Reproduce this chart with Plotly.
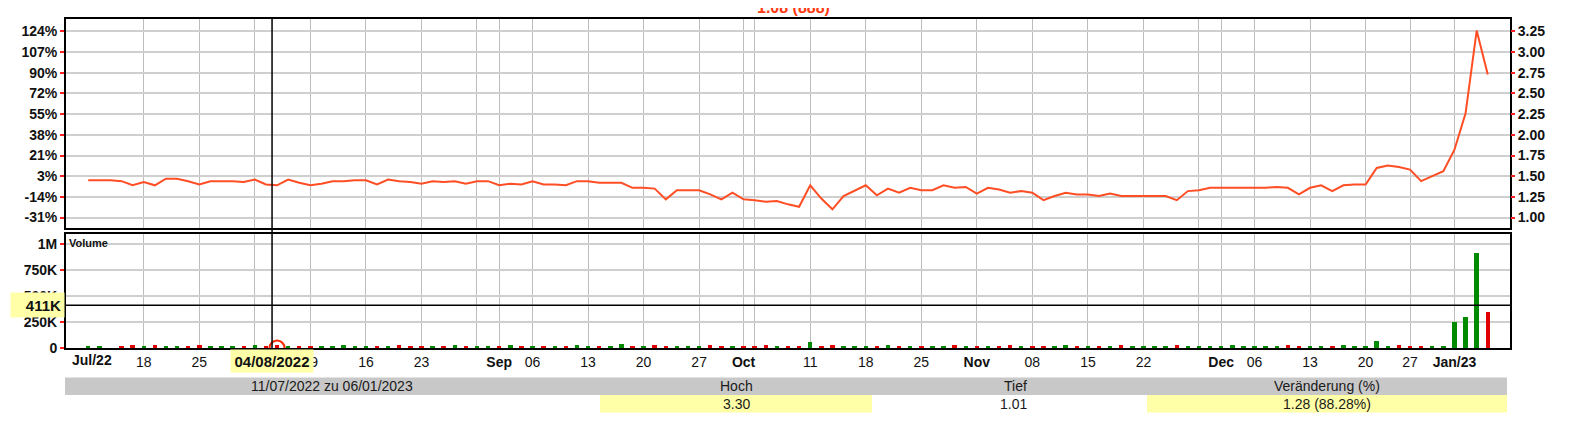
import plotly.graph_objects as go
import pandas as pd

# ---------------- data ----------------
closed_days = ["2022-08-01", "2022-12-26", "2023-01-02"]
dates = [d.strftime("%Y-%m-%d") for d in pd.bdate_range("2022-07-11", "2023-01-06")
         if d.strftime("%Y-%m-%d") not in closed_days]

close_prices = [
    1.45, 1.45, 1.45, 1.44, 1.39, 1.43, 1.39, 1.47, 1.47, 1.44,
    1.40, 1.44, 1.44, 1.44, 1.43, 1.46, 1.40, 1.39, 1.46, 1.42,
    1.39, 1.41, 1.44, 1.44, 1.45, 1.45, 1.40, 1.46, 1.44, 1.43,
    1.41, 1.44, 1.43, 1.44, 1.41, 1.44, 1.44, 1.39, 1.41, 1.40,
    1.44, 1.40, 1.40, 1.39, 1.44, 1.44, 1.42, 1.42, 1.42, 1.36,
    1.36, 1.35, 1.22, 1.33, 1.33, 1.33, 1.28, 1.22, 1.30, 1.22,
    1.21, 1.19, 1.20, 1.16, 1.13, 1.39, 1.23, 1.10, 1.26, 1.33,
    1.39, 1.27, 1.35, 1.30, 1.36, 1.33, 1.33, 1.39, 1.36, 1.37,
    1.29, 1.36, 1.34, 1.30, 1.32, 1.30, 1.21, 1.26, 1.30, 1.28,
    1.28, 1.26, 1.29, 1.26, 1.26, 1.26, 1.26, 1.26, 1.21, 1.32,
    1.33, 1.36, 1.36, 1.36, 1.36, 1.36, 1.36, 1.37, 1.36, 1.28,
    1.36, 1.39, 1.32, 1.39, 1.40, 1.40, 1.60, 1.63, 1.61, 1.58,
    1.44, 1.50, 1.56, 1.82, 2.26, 3.26, 2.73]

volumes_k = [
    28, 26, 0, 27, 29, 28, 30, 27, 26, 28,
    29, 27, 26, 28, 27, 29, 28, 30, 27, 26,
    28, 27, 26, 29, 28, 27, 28, 26, 29, 28,
    27, 28, 26, 29, 28, 27, 26, 28, 29, 27,
    28, 27, 26, 28, 29, 27, 28, 26, 42, 28,
    27, 29, 28, 26, 27, 28, 29, 27, 26, 28,
    27, 29, 28, 26, 28, 62, 27, 29, 28, 26,
    28, 27, 29, 26, 28, 27, 26, 28, 29, 27,
    28, 26, 27, 29, 28, 27, 26, 28, 29, 27,
    28, 26, 27, 29, 28, 27, 26, 28, 29, 27,
    28, 26, 27, 29, 28, 27, 26, 28, 29, 27,
    28, 26, 27, 29, 28, 27, 74, 28, 29, 27,
    28, 26, 27, 255, 300, 918, 355]

price_ticks = [1.00, 1.25, 1.50, 1.75, 2.00, 2.25, 2.50, 2.75, 3.00, 3.25]
price_tick_labels = ["1.00", "1.25", "1.50", "1.75", "2.00", "2.25", "2.50", "2.75", "3.00", "3.25"]
pct_tick_labels = ["-31%", "-14%", "3%", "21%", "38%", "55%", "72%", "90%", "107%", "124%"]

vol_ticks = [0, 250000, 500000, 750000, 1000000]
vol_tick_labels = ["0", "250K", "500K", "750K", "1M"]

x_tick_dates = ["2022-07-18", "2022-07-25", "2022-08-02", "2022-08-09", "2022-08-16", "2022-08-23",
                "2022-08-30", "2022-09-01", "2022-09-06", "2022-09-13", "2022-09-20", "2022-09-27",
                "2022-10-03", "2022-10-04", "2022-10-11", "2022-10-18", "2022-10-25", "2022-11-01",
                "2022-11-08", "2022-11-15", "2022-11-22", "2022-11-29", "2022-12-01", "2022-12-06",
                "2022-12-13", "2022-12-20", "2022-12-27", "2023-01-03"]
x_tick_labels = ["18", "25", "<b>Aug</b>", "09", "16", "23",
                 "", "<b>Sep</b>", "06", "13", "20", "27",
                 "<b>Oct</b>", "", "11", "18", "25", "<b>Nov</b>",
                 "08", "15", "22", "", "<b>Dec</b>", "06",
                 "13", "20", "27", "<b>Jan/23</b>"]
first_label = "<b>Jul/22</b>"

cursor_date = "2022-08-04"
cursor_volume = 411000
cursor_date_text = "04/08/2022"
cursor_volume_text = "411K"

title_text = "1.08 (888)"
range_text = "11/07/2022 zu 06/01/2023"
high_text, low_text, change_text = "3.30", "1.01", "1.28 (88.28%)"

# ---------------- styling ----------------
# the page body adds an 8px margin, so the figure itself is placed 8px in
OFF = 8
W, H = 1562, 425
ML, MR, MT, MB = 58, 60, 11, 85
PW, PH = W - ML - MR, H - MT - MB
FONT = "Arial, Liberation Sans, sans-serif"
LINE_COLOR = "#FF4D24"
GREEN, RED = "#008A00", "#E00000"
YELLOW = "#FFFFA8"
HGRID, VGRID = "#CFCFCF", "#BDBDBD"


def px_x(page_px):
    return (page_px - OFF - ML) / PW


def px_y(page_py):
    return (MT + PH - (page_py - OFF)) / PH


bar_colors = [GREEN] + [GREEN if close_prices[i] >= close_prices[i - 1] else RED
                        for i in range(1, len(close_prices))]
volumes = [v * 1000 for v in volumes_k]

fig = go.Figure()
fig.add_trace(go.Scatter(x=dates, y=close_prices, mode="lines", xaxis="x", yaxis="y",
                         line=dict(color=LINE_COLOR, width=2), hoverinfo="skip", showlegend=False))
fig.add_trace(go.Scatter(x=dates, y=close_prices, mode="lines", xaxis="x", yaxis="y3",
                         line=dict(color="rgba(0,0,0,0)", width=0), hoverinfo="skip", showlegend=False))
fig.add_trace(go.Bar(x=dates, y=volumes, xaxis="x2", yaxis="y2", marker=dict(color=bar_colors, line=dict(width=0)),
                     width=0.4, hoverinfo="skip", showlegend=False))
fig.add_trace(go.Scatter(x=[cursor_date], y=[0], mode="markers", xaxis="x2", yaxis="y2", cliponaxis=False,
                         marker=dict(symbol="circle-open", size=15, color="#FF2A00", line=dict(width=2.2)),
                         hoverinfo="skip", showlegend=False))

price_range = [0.874, 3.40]
price_dom = [px_y(228), 1]
vol_dom = [0, px_y(233.5)]
xrange_ = [-2, 128]

common_x = dict(type="category", range=xrange_, tickmode="array", tickvals=x_tick_dates,
                showgrid=True, gridcolor=VGRID, gridwidth=1, showline=True, linecolor="black",
                linewidth=2, mirror=True, ticks="", zeroline=False, fixedrange=True, automargin=False)
ytick = dict(ticks="outside", ticklen=4, tickwidth=2, tickcolor="#FF2020", automargin=False,
             tickfont=dict(family=FONT, size=14, color="#111", weight="bold"))

fig.update_layout(
    width=W, height=H, margin=dict(l=ML, r=MR, t=MT, b=MB, pad=0, autoexpand=False),
    paper_bgcolor="white", plot_bgcolor="white", bargap=0,
    xaxis=dict(**common_x, domain=[0, 1], anchor="y", showticklabels=False),
    xaxis2=dict(**common_x, domain=[0, 1], anchor="y2", matches="x", ticktext=x_tick_labels,
                showticklabels=True, tickfont=dict(family=FONT, size=14, color="#111")),
    yaxis=dict(domain=price_dom, anchor="x", range=price_range, tickmode="array", tickvals=price_ticks,
               ticktext=pct_tick_labels, showgrid=True, gridcolor=HGRID, gridwidth=2, zeroline=False,
               showline=True, linecolor="black", linewidth=2, mirror=True, fixedrange=True, **ytick),
    yaxis3=dict(overlaying="y", side="right", anchor="x", range=price_range, tickmode="array",
                tickvals=price_ticks, ticktext=price_tick_labels, showgrid=False, zeroline=False,
                showline=False, fixedrange=True, **ytick),
    yaxis2=dict(domain=vol_dom, anchor="x2", range=[0, 1.102e6], tickmode="array", tickvals=vol_ticks,
                ticktext=vol_tick_labels, showgrid=True, gridcolor=HGRID, gridwidth=2, zeroline=False,
                showline=True, linecolor="black", linewidth=2, mirror=True, fixedrange=True, **ytick),
)

shapes = [
    # cursor cross-hair
    dict(type="line", xref="x", yref="paper", xsizemode="pixel", xanchor=cursor_date, x0=-5, x1=-5,
         y0=0, y1=1, line=dict(color="black", width=1.5), layer="above"),
    dict(type="line", xref="paper", yref="y2", x0=0, x1=1, y0=cursor_volume, y1=cursor_volume,
         line=dict(color="black", width=1.5), layer="above"),
    # summary table
    dict(type="rect", xref="paper", yref="paper", x0=px_x(65), x1=px_x(1507), y0=px_y(395), y1=px_y(377.5),
         fillcolor="#C8C8C8", line=dict(width=0), layer="above"),
    dict(type="rect", xref="paper", yref="paper", x0=px_x(600), x1=px_x(872), y0=px_y(412.5), y1=px_y(395),
         fillcolor=YELLOW, line=dict(width=0), layer="above"),
    dict(type="rect", xref="paper", yref="paper", x0=px_x(1147), x1=px_x(1507), y0=px_y(412.5), y1=px_y(395),
         fillcolor=YELLOW, line=dict(width=0), layer="above"),
]
fig.update_layout(shapes=shapes)

tf = dict(family=FONT, size=14, color="#1a1a1a")
cell = dict(xref="paper", yref="paper", xanchor="center", yanchor="middle", showarrow=False, font=tf)
annotations = [
    dict(text=f"<b>{title_text}</b>", xref="paper", yref="paper", x=px_x(793), y=1, xanchor="center",
         yanchor="bottom", yshift=1, showarrow=False, font=dict(family=FONT, size=16, color="#FF3A10")),
    dict(text="<b>Volume</b>", xref="paper", yref="paper", x=px_x(67), y=px_y(243), xanchor="left",
         yanchor="middle", showarrow=False, font=dict(family=FONT, size=11, color="#111")),
    dict(text=first_label, xref="x2", yref="paper", x=dates[0], y=0, xanchor="center", yanchor="top",
         xshift=4, yshift=-2, showarrow=False, font=dict(family=FONT, size=14, color="#111")),
    dict(text=f"<b>{cursor_volume_text}</b>", xref="paper", yref="y2", x=0, y=cursor_volume, xanchor="right",
         yanchor="middle", xshift=-1, showarrow=False, bgcolor=YELLOW, width=47, height=18, borderpad=3,
         align="right", font=dict(family=FONT, size=15, color="#111")),
    dict(text=f"<b>{cursor_date_text}</b>", xref="x2", yref="paper", x=cursor_date, y=0, xanchor="center",
         yanchor="top", xshift=-5, yshift=-1, showarrow=False, bgcolor=YELLOW, width=78, height=18,
         borderpad=2, font=dict(family=FONT, size=15, color="#111")),
    dict(text=range_text, x=px_x(332), y=px_y(386.3), **cell),
    dict(text="Hoch", x=px_x(736), y=px_y(386.3), **cell),
    dict(text="Tief", x=px_x(1015), y=px_y(386.3), **cell),
    dict(text="Veränderung (%)", x=px_x(1327), y=px_y(386.3), **cell),
    dict(text=high_text, x=px_x(736), y=px_y(403.8), **cell),
    dict(text=low_text, x=px_x(1013), y=px_y(403.8), **cell),
    dict(text=change_text, x=px_x(1327), y=px_y(403.8), **cell),
]
fig.update_layout(annotations=annotations)

fig.write_html("out.html")
